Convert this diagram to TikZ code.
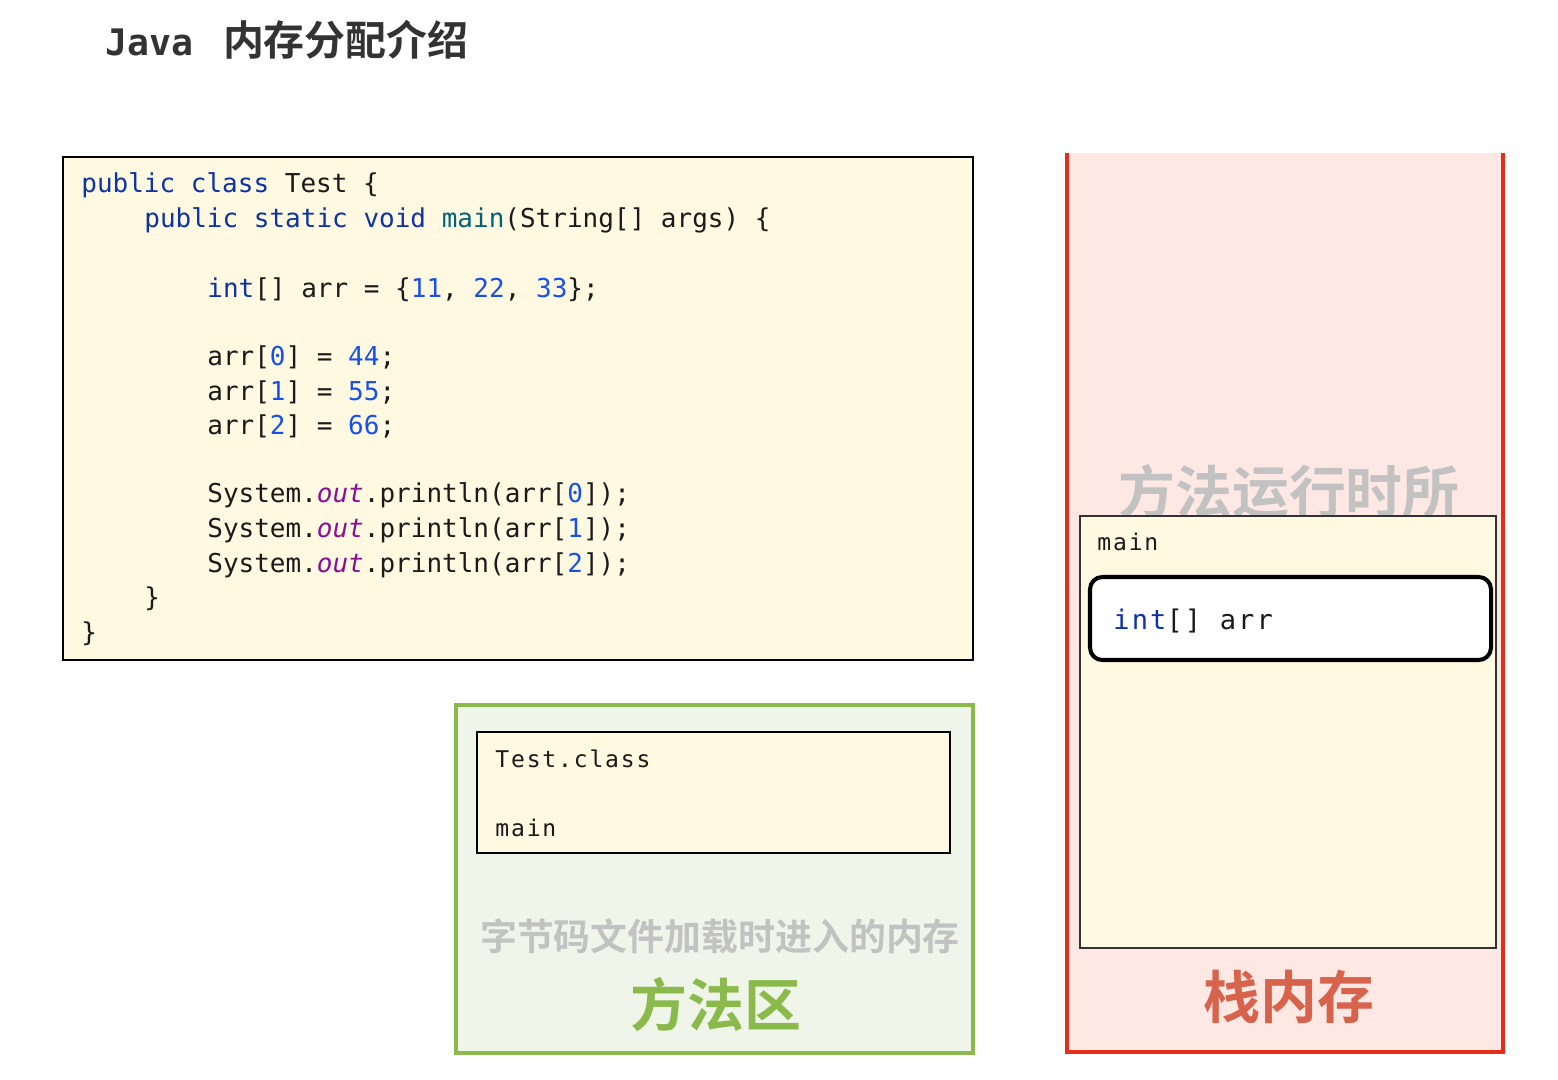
\documentclass[tikz,border=0pt]{standalone}
\usepackage{fontspec}
\usepackage{xcolor}
\usepackage{tikz}
\usetikzlibrary{positioning}
\setmonofont{DejaVu Sans Mono}
\newfontfamily\memfont[LetterSpace=8]{DejaVu Sans Mono}
\newfontfamily\cjkfont[BoldFont={Noto Sans CJK SC Bold}]{Noto Sans CJK SC}

\definecolor{codebg}{HTML}{FFF9E2}
\definecolor{codeink}{HTML}{1A1A1A}
\definecolor{kwblue}{HTML}{0D33A6}
\definecolor{numblue}{HTML}{1750EB}
\definecolor{mthteal}{HTML}{00627A}
\definecolor{fldpurple}{HTML}{871094}
\definecolor{areabg}{HTML}{F0F5EA}
\definecolor{areagreen}{HTML}{8BBA4C}
\definecolor{stackbg}{HTML}{FDE8E4}
\definecolor{stackred}{HTML}{E42D1A}
\definecolor{namered}{HTML}{D8634C}
\definecolor{hintgray}{HTML}{C2C2C2}
\definecolor{titleink}{HTML}{333333}

\newcommand\kw[1]{\textcolor{kwblue}{#1}}
\newcommand\cnum[1]{\textcolor{numblue}{#1}}
\newcommand\mth[1]{\textcolor{mthteal}{#1}}
\newcommand\fld[1]{\textcolor{fldpurple}{\itshape #1}}
\newcommand\pxfont[1]{\fontsize{#1pt}{1.2\dimexpr#1pt\relax}\selectfont}

\begin{document}
\begin{tikzpicture}[
  x=0.02cm, y=-0.02cm,
  code/.style={anchor=base west, inner sep=0pt, text=codeink,
               font=\pxfont{14.8}\ttfamily},
  mem/.style={anchor=base west, inner sep=0pt, text=codeink,
              font=\pxfont{13.1}\memfont},
  hint/.style={inner sep=0pt, text=hintgray, font=\pxfont{21}\cjkfont\bfseries},
  areaname/.style={inner sep=0pt, font=\pxfont{32.4}\cjkfont\bfseries},
  codebox/.style={draw=black, fill=codebg, line width=1.2pt},
  classbox/.style={draw=black, fill=codebg, line width=1.2pt},
  framebox/.style={draw=black!80, fill=codebg, line width=1.1pt},
  varbox/.style={draw=black, fill=white, line width=2.3pt, rounded corners=7pt}
]
  \useasboundingbox (0,0) rectangle (1558,1079);

  \node[anchor=base west, inner sep=0pt, text=titleink,
        font=\pxfont{20.8}\ttfamily\bfseries] (java) at (105,55) {Java};
  \node[base right=0.58cm of java, inner sep=0pt, text=titleink,
        font=\pxfont{23.3}\cjkfont\bfseries] (title) {内存分配介绍};

  \draw[codebox] (63,157) rectangle (973,660);
  \node[code] (c1) at (81,192) {\kw{public class} Test \{};
  \node[code] (c2) at (144,227) {\kw{public static void} \mth{main}(String[] args) \{};
  \node[code] (c3) at (207,297) {\kw{int}[] arr = \{\cnum{11}, \cnum{22}, \cnum{33}\};};
  \node[code] (c4) at (207,365) {arr[\cnum{0}] = \cnum{44};};
  \node[code] (c5) at (207,400) {arr[\cnum{1}] = \cnum{55};};
  \node[code] (c6) at (207,434) {arr[\cnum{2}] = \cnum{66};};
  \node[code] (c7) at (207,502) {System.\fld{out}.println(arr[\cnum{0}]);};
  \node[code] (c8) at (207,537) {System.\fld{out}.println(arr[\cnum{1}]);};
  \node[code] (c9) at (207,572) {System.\fld{out}.println(arr[\cnum{2}]);};
  \node[code] (c10) at (144,606) {\}};
  \node[code] (c11) at (81,641) {\}};

  \draw[draw=areagreen, fill=areabg, line width=2.8pt] (456,705) rectangle (973,1053);
  \draw[classbox] (477,732) rectangle (950,853);
  \node[mem] (tclass) at (495,767) {Test.class};
  \node[mem] (tmain) at (495,836) {main};
  \node[hint] (mhint) at (720,936) {字节码文件加载时进入的内存};
  \node[areaname, text=areagreen] (mname) at (716,1005) {方法区};

  \fill[stackbg] (1067,153) rectangle (1503,1052);
  \draw[stackred, line width=2.8pt] (1067,153) |- (1503,1052) -- (1503,153);
  \node[hint, font=\pxfont{32.4}\cjkfont\bfseries] (shint) at (1289,492) {方法运行时所};
  \draw[framebox] (1080,516) rectangle (1496,948);
  \node[mem] (fmain) at (1097,550) {main};
  \draw[varbox] (1090,577) rectangle (1491,660);
  \node[mem, font=\pxfont{15.4}\memfont] (fvar) at (1113,629) {\kw{int}[] arr};
  \node[areaname, text=namered] (sname) at (1289,997) {栈内存};
\end{tikzpicture}
\end{document}
